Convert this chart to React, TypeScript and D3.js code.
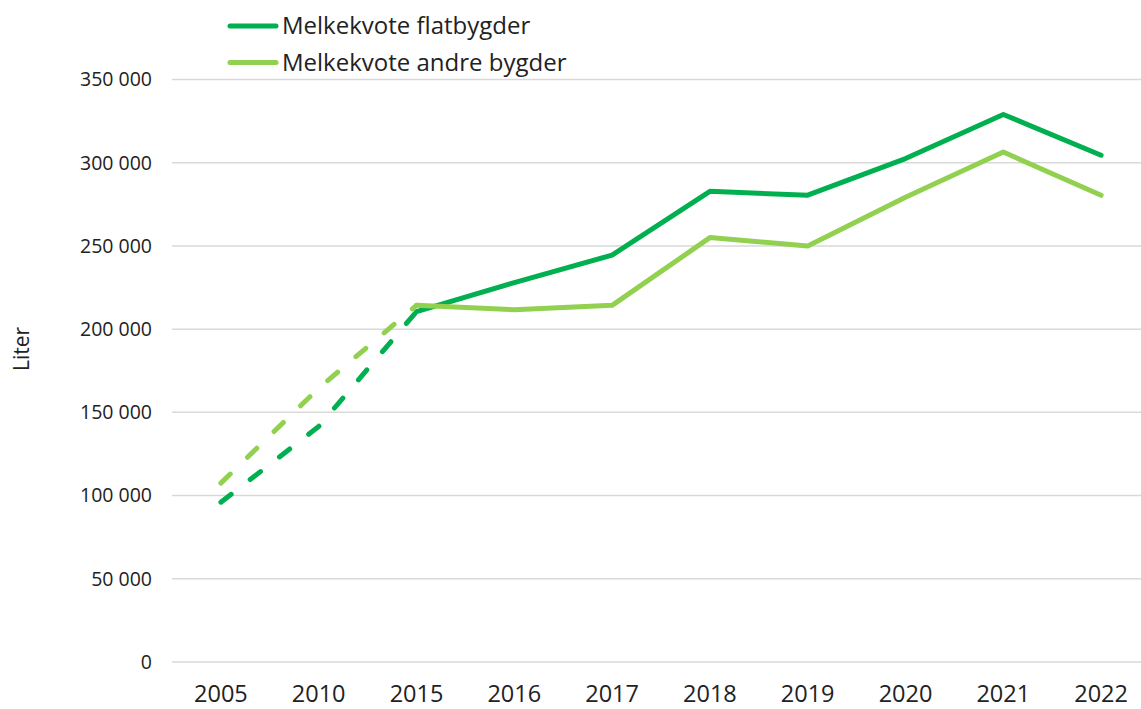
import { useEffect, useRef } from 'react';
import * as d3 from 'd3';

const years = ['2005', '2010', '2015', '2016', '2017', '2018', '2019', '2020', '2021', '2022'];
const flatbygder = [96000, 141500, 210500, 228000, 244500, 282800, 280500, 302500, 329000, 304500];
const andreBygder = [107500, 164500, 214300, 211700, 214300, 255000, 250000, 279300, 306400, 280400];
const yTicks = [0, 50000, 100000, 150000, 200000, 250000, 300000, 350000];
// the first three points (2005, 2010, 2015) are drawn dashed
const dashedCount = 3;

const seriesList = [
  { name: 'Melkekvote flatbygder', values: flatbygder, color: '#00b050' },
  { name: 'Melkekvote andre bygder', values: andreBygder, color: '#92d050' },
];

const W = 1141;
const H = 709;
const FONT = "'Open Sans', sans-serif";

const App = () => {
  const svgRef = useRef<SVGSVGElement>(null);

  useEffect(() => {
    const svg = d3.select(svgRef.current);
    svg.selectAll('*').remove();

    const x = d3.scaleBand<string>().domain(years).range([172, 1150]);
    const y = d3.scaleLinear().domain([0, 350000]).range([662, 79.5]);
    const cx = (yr: string) => (x(yr) as number) + x.bandwidth() / 2;

    const fmt = (v: number) => d3.format(',')(v).replace(/,/g, ' ');

    // gridlines
    svg.append('g')
      .selectAll('line')
      .data(yTicks)
      .enter()
      .append('line')
      .attr('x1', 172)
      .attr('x2', 1150)
      .attr('y1', d => y(d))
      .attr('y2', d => y(d))
      .attr('stroke', '#d9d9d9')
      .attr('stroke-width', 1.5);

    // y tick labels
    svg.append('g')
      .selectAll('text')
      .data(yTicks)
      .enter()
      .append('text')
      .attr('x', 152)
      .attr('y', d => y(d))
      .attr('dy', '0.35em')
      .attr('text-anchor', 'end')
      .style('font-family', FONT)
      .style('font-size', '19.5px')
      .style('fill', '#222')
      .text(d => fmt(d));

    // x tick labels
    svg.append('g')
      .selectAll('text')
      .data(years)
      .enter()
      .append('text')
      .attr('x', d => cx(d))
      .attr('y', 702)
      .attr('text-anchor', 'middle')
      .style('font-family', FONT)
      .style('font-size', '23.5px')
      .style('fill', '#222')
      .text(d => d);

    // y axis title
    svg.append('text')
      .attr('transform', 'translate(29,349) rotate(-90)')
      .attr('text-anchor', 'middle')
      .style('font-family', FONT)
      .style('font-size', '21px')
      .style('fill', '#222')
      .text('Liter');

    const line = d3.line<[string, number]>()
      .x(d => cx(d[0]))
      .y(d => y(d[1]));

    seriesList.forEach(s => {
      const pts: [string, number][] = years.map((yr, i) => [yr, s.values[i]]);
      const g = svg.append('g');
      g.append('path')
        .attr('d', line(pts.slice(0, dashedCount)))
        .attr('fill', 'none')
        .attr('stroke', s.color)
        .attr('stroke-width', 5)
        .attr('stroke-linecap', 'round')
        .attr('stroke-dasharray', '13,24');
      g.append('path')
        .attr('d', line(pts.slice(dashedCount - 1)))
        .attr('fill', 'none')
        .attr('stroke', s.color)
        .attr('stroke-width', 5)
        .attr('stroke-linecap', 'round')
        .attr('stroke-linejoin', 'round');
    });

    // legend
    const legend = svg.append('g');
    seriesList.forEach((s, i) => {
      const ly = 26 + i * 36.5;
      legend.append('line')
        .attr('x1', 230)
        .attr('x2', 276)
        .attr('y1', ly)
        .attr('y2', ly)
        .attr('stroke', s.color)
        .attr('stroke-width', 5)
        .attr('stroke-linecap', 'round');
      legend.append('text')
        .attr('x', 282)
        .attr('y', ly)
        .attr('dy', '0.35em')
        .style('font-family', FONT)
        .style('font-size', '24px')
        .style('fill', '#222')
        .text(s.name);
    });
  }, []);

  return (
    <svg
      ref={svgRef}
      width={W}
      height={H}
      style={{ position: 'absolute', left: 0, top: 0, background: '#fff' }}
    />
  );
};

export default App;
